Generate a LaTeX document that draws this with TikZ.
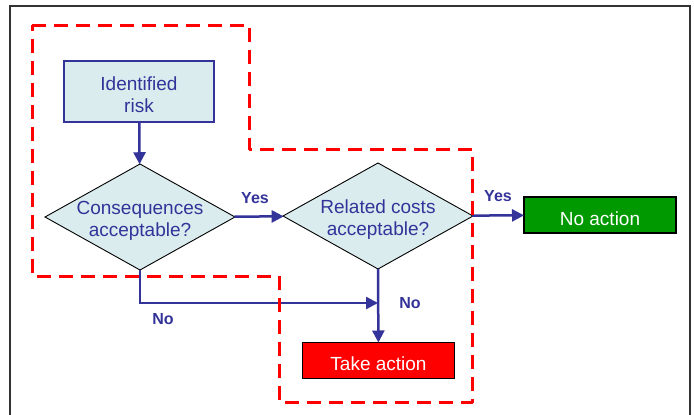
\documentclass[tikz,border=0pt]{standalone}
\usepackage{fontspec}
\setmainfont{Liberation Sans}
\usetikzlibrary{shapes.geometric, arrows.meta, positioning, calc}
\definecolor{riskblue}{RGB}{51,51,153}
\definecolor{riskcyan}{RGB}{218,236,238}
\definecolor{actgreen}{RGB}{0,153,0}
\definecolor{actred}{RGB}{255,0,0}
\newcommand{\topstrut}{\rule{0pt}{21pt}}

\begin{document}
\begin{tikzpicture}[x=1pt,y=-1pt,
  txt/.style={font=\fontsize{19}{22}\selectfont, align=center},
  lbl/.style={font=\fontsize{16}{18}\selectfont\bfseries, text=riskblue},
  flow/.style={draw=riskblue, line width=2.5pt, -{Triangle[length=12pt,width=12pt]}},
  decision/.style={diamond, aspect=1.8, draw, line width=0.9pt, fill=riskcyan, text=riskblue, txt,
    minimum width=190pt, minimum height=106pt, inner sep=-4pt, outer sep=0pt},
  outcome/.style={draw, line width=1.2pt, text=white, txt,
    minimum width=152pt, minimum height=36pt, inner sep=0pt, outer sep=0pt}]
\useasboundingbox (0,0) rectangle (694,415);
% frame
\draw[line width=1.5pt, black!80] (10,415) -- (10,6) -- (690,6) -- (690,415);
% boxes
\node[draw=riskblue, line width=1.2pt, fill=riskcyan, text=riskblue, txt,
  minimum width=150pt, minimum height=61pt, inner sep=0pt, outer sep=0pt] (risk) at (139,91.5) {\topstrut Identified\\risk};
\node[decision] (conseq) at (140,217) {\topstrut Consequences\\acceptable?};
\node[decision] (costs) at (378,216) {\topstrut Related costs\\acceptable?};
\node[outcome, fill=actgreen] (noact) at (600,215) {\topstrut No action};
\node[outcome, fill=actred] (takeact) at (378.5,360.5) {\rule{0pt}{20pt}Take action};
\coordinate (join) at (costs.south |- 0,303);
% arrows
\draw[flow] (risk) -- (conseq);
\draw[flow] (conseq) -- (costs);
\draw[flow] (costs) -- (noact);
\draw[flow] (conseq.south) |- (join);
\draw[flow] (costs.south) -- (takeact);
% labels
\node[lbl] (yes1) at (255,198) {Yes};
\node[lbl] (yes2) at (498,196) {Yes};
\node[lbl] (no1) at (163,319) {No};
\node[lbl] (no2) at (410,303) {No};
% scope of the study
\draw[actred, line width=3pt, dash pattern=on 14pt off 8pt, line join=round]
  (32,25) -- (249,25) -- (249,149) -- (472,149) -- (472,402) -- (279,402) -- (279,276) -- (32,276) -- cycle;
\end{tikzpicture}
\end{document}
